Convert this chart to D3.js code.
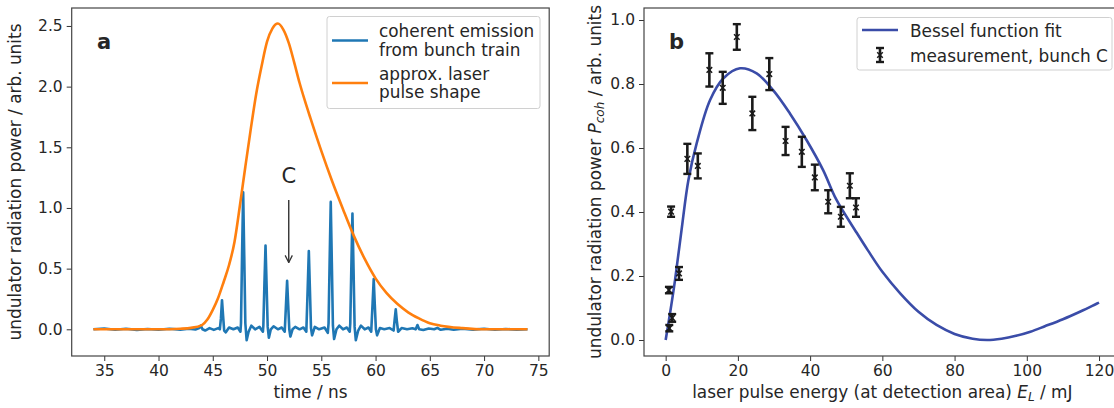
<!DOCTYPE html>
<html>
<head>
<meta charset="utf-8">
<script src="https://cdn.jsdelivr.net/npm/d3@7"></script>
<style>
body { margin: 0; background: #fff; }
text { font-family: "DejaVu Sans", sans-serif; fill: #262626; }
</style>
</head>
<body>
<svg id="drawing_region"></svg>
<script>
// ---- panel a : laser pulse shape and bunch train emission ----
const laserTime = [34, 36, 38, 40, 42, 43, 44, 44.5, 45, 45.5, 46, 46.5, 47, 47.5, 48, 48.5, 49, 49.5, 50, 50.5, 51,
    51.5, 52, 52.5, 53, 53.5, 54, 55, 56, 57, 58, 59, 60, 61, 62, 63, 64, 65, 66, 68, 70, 72, 74];
const laserPower = [0, 0, 0, 0, 0.005, 0.012, 0.035, 0.08, 0.16, 0.26, 0.39, 0.53, 0.72, 1.02, 1.34, 1.65, 1.94, 2.17, 2.37, 2.48, 2.52,
    2.47, 2.36, 2.2, 2.03, 1.88, 1.74, 1.47, 1.22, 0.99, 0.77, 0.58, 0.42, 0.3, 0.21, 0.14, 0.09, 0.05, 0.03, 0.01, 0, 0, 0];

const emission = [
    [34,0],[35,0.006],[36,-0.004],[37,0.004],[38,-0.005],[39,0.003],[40,-0.004],[41,0.005],[42,-0.003],[42.8,0.004],[43.4,-0.002],
    [43.75,0.01],[43.9,0.03],[44.05,0],[44.3,-0.01],[44.7,0.01],[45.1,-0.005],[45.5,0.01],
    [45.65,0],[45.75,0.09],[45.85,0.24],[45.95,0.11],[46.05,-0.01],[46.2,-0.025],[46.5,0.015],[46.9,0],[47.3,0.015],
    [47.55,-0.02],[47.6,0.05],[47.7,0.62],[47.8,1.13],[47.9,0.6],[48.0,0.05],[48.12,-0.09],[48.3,-0.02],[48.55,0.03],[48.9,0],[49.3,0.02],
    [49.62,-0.02],[49.66,0.03],[49.76,0.38],[49.86,0.69],[49.96,0.36],[50.06,0.02],[50.17,-0.07],[50.35,0],[50.6,0.025],[51.0,0],[51.35,0.015],
    [51.63,-0.02],[51.75,0.21],[51.85,0.40],[51.95,0.2],[52.05,0],[52.15,-0.06],[52.35,0],[52.6,0.02],[53.0,0],[53.35,0.015],
    [53.62,-0.02],[53.75,0.35],[53.85,0.645],[53.95,0.33],[54.05,0.01],[54.15,-0.05],[54.4,0.02],[54.8,0],[55.3,0.015],
    [55.6,-0.03],[55.67,0.05],[55.77,0.57],[55.87,1.05],[55.97,0.55],[56.07,0.03],[56.18,-0.08],[56.4,0],[56.65,0.03],[57.0,0],[57.35,0.015],
    [57.62,-0.02],[57.67,0.05],[57.77,0.52],[57.87,0.955],[57.97,0.5],[58.07,0.02],[58.18,-0.09],[58.4,-0.01],[58.65,0.03],[59.0,0],[59.35,0.015],
    [59.6,-0.02],[59.73,0.22],[59.83,0.415],[59.93,0.2],[60.03,0],[60.14,-0.05],[60.4,0.01],[60.8,0],[61.3,0.01],
    [61.66,-0.01],[61.76,0.08],[61.86,0.165],[61.96,0.07],[62.08,-0.02],[62.4,0.01],[62.9,0],[63.4,0.008],
    [63.7,0],[63.86,0.035],[64.02,0],[64.4,-0.005],[64.9,0.006],[65.4,0],
    [65.7,0.012],[66.0,-0.004],[66.6,0.005],[67.2,-0.004],[68,0.004],[69,-0.003],[70,0.005],[71,-0.004],[72,0.003],[73,-0.004],[74,0]
];

const timeTicks = [35, 40, 45, 50, 55, 60, 65, 70, 75];
const powerTicks = [0, 0.5, 1.0, 1.5, 2.0, 2.5];
const bunchC = { label: 'C', t: 52, from: 1.065, to: 0.55, text: 1.26 };

// ---- panel b : power vs laser energy ----
const fitEnergy = [0, 1.2, 2.6, 4.4, 6.3, 8.6, 12.3, 16, 20.6, 25.2, 29.8, 34.4, 39, 43.6, 47.2, 52.9, 56, 60, 65, 70, 75, 80, 85, 89,
    93, 97, 101, 105, 110, 115, 120];
const fitPower = [0, 0.083, 0.188, 0.344, 0.5, 0.615, 0.75, 0.818, 0.849, 0.833, 0.78, 0.708, 0.625, 0.531, 0.44, 0.335, 0.28, 0.213, 0.145, 0.088, 0.047, 0.019, 0.004, 0,
    0.004, 0.013, 0.026, 0.043, 0.065, 0.09, 0.117];

const measEnergy = [1.0, 0.9, 1.8, 1.5, 3.7, 6.0, 8.9, 12.1, 15.8, 19.7, 24.0, 28.7, 33.2, 37.7, 41.3, 45.0, 48.5, 51.0, 52.7];
const measPower = [0.037, 0.156, 0.069, 0.401, 0.208, 0.566, 0.544, 0.844, 0.788, 0.947, 0.708, 0.831, 0.622, 0.588, 0.508, 0.432, 0.385, 0.482, 0.414];
const measError = [0.01, 0.01, 0.012, 0.016, 0.02, 0.047, 0.039, 0.052, 0.05, 0.04, 0.052, 0.05, 0.044, 0.047, 0.04, 0.036, 0.031, 0.039, 0.029];

const energyTicks = [0, 20, 40, 60, 80, 100, 120];
const pcohTicks = [0, 0.2, 0.4, 0.6, 0.8, 1.0];

const BLUE = '#1f77b4', ORANGE = '#ff7f0e', FIT = '#3a4ca8', INK = '#1a1a1a';
const FS = 15.5;   // tick labels
const LS = 16.9;   // axis labels and legends

const svg = d3.select('#drawing_region')
    .attr('width', 1114)
    .attr('height', 408);

// arrow head for the annotation
svg.append('defs').append('marker')
    .attr('id', 'arrow')
    .attr('viewBox', '0 0 10 10')
    .attr('refX', 9).attr('refY', 5)
    .attr('markerWidth', 9).attr('markerHeight', 9)
    .attr('markerUnits', 'userSpaceOnUse')
    .attr('orient', 'auto')
    .append('path')
    .attr('d', 'M1,1 L9,5 L1,9')
    .attr('fill', 'none')
    .attr('stroke', '#333')
    .attr('stroke-width', 1.4);

function makeFrame(cfg) {
    const x = d3.scaleLinear().domain(cfg.xdomain).range([cfg.left, cfg.right]);
    const y = d3.scaleLinear().domain(cfg.ydomain).range([cfg.bottom, cfg.top]);

    const g = svg.append('g');

    const xaxis = d3.axisBottom(x).tickValues(cfg.xticks).tickSize(5).tickPadding(4).tickFormat(d3.format('d'));
    const yaxis = d3.axisLeft(y).tickValues(cfg.yticks).tickSize(5).tickPadding(4).tickFormat(d3.format('.1f'));

    const xg = g.append('g').attr('transform', `translate(0, ${cfg.bottom})`).call(xaxis);
    const yg = g.append('g').attr('transform', `translate(${cfg.left}, 0)`).call(yaxis);
    [xg, yg].forEach(a => {
        a.select('.domain').remove();
        a.selectAll('line').attr('stroke', '#333').attr('stroke-width', 1);
        a.selectAll('text').attr('font-size', FS).attr('font-family', '"DejaVu Sans", sans-serif').attr('fill', '#262626');
    });

    const plot = g.append('g');

    g.append('rect')
        .attr('x', cfg.left).attr('y', cfg.top)
        .attr('width', cfg.right - cfg.left).attr('height', cfg.bottom - cfg.top)
        .attr('fill', 'none')
        .attr('stroke', '#444')
        .attr('stroke-width', 1.2);

    return { x, y, g, plot };
}

// ---------------- panel a ----------------
const A = makeFrame({
    left: 71.7, right: 549.2, top: 8, bottom: 356,
    xdomain: [32, 76], ydomain: [-0.22, 2.648],
    xticks: timeTicks, yticks: powerTicks
});

const lineA = d3.line().x(d => A.x(d[0])).y(d => A.y(d[1]));

A.plot.append('path')
    .attr('d', lineA(emission))
    .attr('fill', 'none')
    .attr('stroke', BLUE)
    .attr('stroke-width', 2.6)
    .attr('stroke-linejoin', 'round');

A.plot.append('path')
    .attr('d', lineA.curve(d3.curveMonotoneX)(laserTime.map((t, i) => [t, laserPower[i]])))
    .attr('fill', 'none')
    .attr('stroke', ORANGE)
    .attr('stroke-width', 2.6);

A.plot.append('line')
    .attr('x1', A.x(bunchC.t)).attr('x2', A.x(bunchC.t))
    .attr('y1', A.y(bunchC.from)).attr('y2', A.y(bunchC.to))
    .attr('stroke', '#333')
    .attr('stroke-width', 1.4)
    .attr('marker-end', 'url(#arrow)');

A.plot.append('text')
    .attr('x', A.x(bunchC.t)).attr('y', A.y(bunchC.text))
    .attr('text-anchor', 'middle').attr('dominant-baseline', 'central')
    .attr('font-size', 21)
    .text(bunchC.label);

A.g.append('text')
    .attr('x', 97).attr('y', 49)
    .attr('font-size', 21).attr('font-weight', 'bold')
    .text('a');

A.g.append('text')
    .attr('x', (71.7 + 549.2) / 2).attr('y', 398)
    .attr('text-anchor', 'middle')
    .attr('font-size', LS)
    .text('time / ns');

A.g.append('text')
    .attr('transform', `translate(21, 182) rotate(-90)`)
    .attr('text-anchor', 'middle')
    .attr('font-size', LS)
    .text('undulator radiation power / arb. units');

// legend a
const legA = A.g.append('g');
legA.append('rect')
    .attr('x', 327).attr('y', 16.5).attr('width', 213).attr('height', 92)
    .attr('rx', 2.5)
    .attr('fill', '#fff').attr('fill-opacity', 0.85)
    .attr('stroke', '#d0d0d0');
[[BLUE, 40.5, ['coherent emission', 'from bunch train']], [ORANGE, 83, ['approx. laser', 'pulse shape']]].forEach(([c, yy, lines]) => {
    legA.append('line').attr('x1', 332).attr('x2', 368).attr('y1', yy).attr('y2', yy)
        .attr('stroke', c).attr('stroke-width', 2.6);
    lines.forEach((t, i) => {
        legA.append('text').attr('x', 379).attr('y', yy - 9.5 + i * 18.5)
            .attr('dominant-baseline', 'central').attr('font-size', LS).text(t);
    });
});

// ---------------- panel b ----------------
const B = makeFrame({
    left: 644, right: 1120.7, top: 8, bottom: 356,
    xdomain: [-6, 126], ydomain: [-0.05, 1.0375],
    xticks: energyTicks, yticks: pcohTicks
});

const lineB = d3.line().x(d => B.x(d[0])).y(d => B.y(d[1])).curve(d3.curveCatmullRom.alpha(0.5));

B.plot.append('path')
    .attr('d', lineB(fitEnergy.map((e, i) => [e, fitPower[i]])))
    .attr('fill', 'none')
    .attr('stroke', FIT)
    .attr('stroke-width', 2.6);

const meas = measEnergy.map((e, i) => ({ e: e, p: measPower[i], err: measError[i] }));

function errorBar(sel, cx, y0, y1, cy) {
    sel.append('line').attr('x1', cx).attr('x2', cx).attr('y1', y0).attr('y2', y1)
        .attr('stroke', INK).attr('stroke-width', 2.6);
    [y0, y1].forEach(yy => sel.append('line')
        .attr('x1', cx - 4).attr('x2', cx + 4).attr('y1', yy).attr('y2', yy)
        .attr('stroke', INK).attr('stroke-width', 2.4));
    sel.append('path')
        .attr('transform', `translate(${cx}, ${cy})`)
        .attr('d', d3.symbol(d3.symbolTimes, 22)())
        .attr('fill', 'none').attr('stroke', INK).attr('stroke-width', 1.5);
}

meas.forEach(d => {
    errorBar(B.plot.append('g'), B.x(d.e), B.y(d.p + d.err), B.y(d.p - d.err), B.y(d.p));
});

B.g.append('text')
    .attr('x', 669).attr('y', 49)
    .attr('font-size', 21).attr('font-weight', 'bold')
    .text('b');

const xlabB = B.g.append('text')
    .attr('x', (644 + 1120.7) / 2).attr('y', 398)
    .attr('text-anchor', 'middle')
    .attr('font-size', LS);
xlabB.append('tspan').text('laser pulse energy (at detection area) ');
xlabB.append('tspan').attr('font-style', 'italic').text('E');
xlabB.append('tspan').attr('font-style', 'italic').attr('font-size', 12).attr('dy', 3).text('L');
xlabB.append('tspan').attr('dy', -3).text(' / mJ');

const ylabB = B.g.append('text')
    .attr('transform', `translate(601, 182) rotate(-90)`)
    .attr('text-anchor', 'middle')
    .attr('font-size', LS);
ylabB.append('tspan').text('undulator radiation power ');
ylabB.append('tspan').attr('font-style', 'italic').text('P');
ylabB.append('tspan').attr('font-style', 'italic').attr('font-size', 12).attr('dy', 3).text('coh');
ylabB.append('tspan').attr('dy', -3).text(' / arb. units');

// legend b
const legB = B.g.append('g');
legB.append('rect')
    .attr('x', 857).attr('y', 17.5).attr('width', 255).attr('height', 52.5)
    .attr('rx', 2.5)
    .attr('fill', '#fff').attr('fill-opacity', 0.85)
    .attr('stroke', '#d0d0d0');
legB.append('line').attr('x1', 862).attr('x2', 898).attr('y1', 30).attr('y2', 30)
    .attr('stroke', FIT).attr('stroke-width', 2.6);
legB.append('text').attr('x', 910).attr('y', 31).attr('dominant-baseline', 'central')
    .attr('font-size', LS).text('Bessel function fit');
errorBar(legB.append('g'), 880, 48, 62, 55);
legB.append('text').attr('x', 910).attr('y', 55.5).attr('dominant-baseline', 'central')
    .attr('font-size', LS).text('measurement, bunch C');
</script>
</body>
</html>
